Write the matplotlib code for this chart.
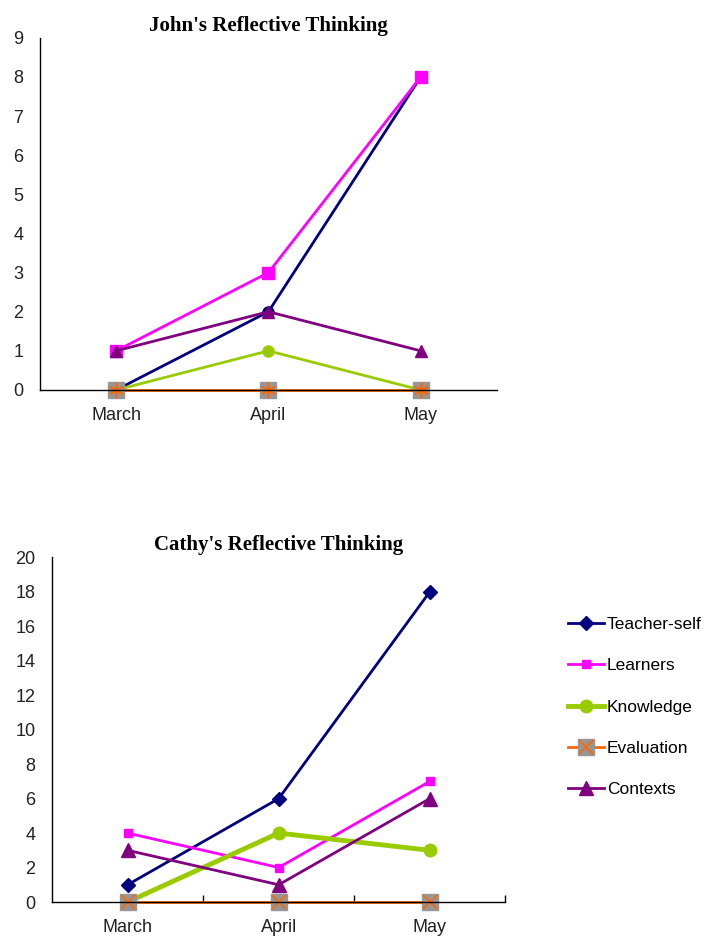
import numpy as np
import matplotlib
matplotlib.use("Agg")
from matplotlib import pyplot as plt

months = ["March", "April", "May"]
series = ["Teacher-self", "Learners", "Knowledge", "Evaluation", "Contexts"]

john_teacher = [0, 2, 8]
john_learners = [1, 3, 8]
john_knowledge = [0, 1, 0]
john_evaluation = [0, 0, 0]
john_contexts = [1, 2, 1]

cathy_teacher = [1, 6, 18]
cathy_learners = [4, 2, 7]
cathy_knowledge = [0, 4, 3]
cathy_evaluation = [0, 0, 0]
cathy_contexts = [3, 1, 6]

navy = "#000080"
magenta = "#FF00FF"
green = "#99CC00"
orange = "#FF6600"
purple = "#800080"
grey = "#969696"

plt.rcParams['font.family'] = ['Liberation Sans', 'DejaVu Sans']

fig = plt.figure(figsize=(7.06, 9.39), dpi=100)
x = np.arange(len(months))


def style_axes(ax, ymax, title):
    ax.set_xlim(-0.5, 2.5)
    ax.set_ylim(0, ymax)
    ax.spines['top'].set_visible(False)
    ax.spines['right'].set_visible(False)
    ax.set_xticks(x)
    ax.set_xticklabels(months)
    ax.tick_params(axis='both', length=0, labelsize=13, colors='#222222')
    ax.tick_params(axis='x', pad=12)
    ax.tick_params(axis='y', pad=12)
    ax.set_title(title, fontfamily='Liberation Serif', fontweight='bold',
                 fontsize=15, pad=5)
    for s in ax.spines.values():
        s.set_linewidth(1.0)


# John
ax1 = fig.add_axes([0.0567, 0.5847, 0.647, 0.375])
ax1.plot(x, john_teacher, color=navy, lw=2, marker='o', ms=8, clip_on=False)
ax1.plot(x, john_learners, color=magenta, lw=2, marker='s', ms=8, clip_on=False)
ax1.plot(x, john_knowledge, color=green, lw=2, marker='o', ms=8, clip_on=False)
ax1.plot(x, john_evaluation, color=orange, lw=2, marker='s', ms=12,
         mfc=grey, mec=grey, clip_on=False)
ax1.plot(x, john_evaluation, ls='none', marker=(6, 2, 0), ms=11, mec=orange,
         mew=1.2, clip_on=False)
ax1.plot(x, john_contexts, color=purple, lw=2, marker='^', ms=9, clip_on=False)
style_axes(ax1, 9, "John's Reflective Thinking")
ax1.set_yticks(range(0, 10))

# Cathy
ax2 = fig.add_axes([0.0737, 0.0394, 0.642, 0.367])
h1, = ax2.plot(x, cathy_teacher, color=navy, lw=2, marker='D', ms=7, clip_on=False)
h2, = ax2.plot(x, cathy_learners, color=magenta, lw=2, marker='s', ms=6, clip_on=False)
h3, = ax2.plot(x, cathy_knowledge, color=green, lw=3.5, marker='o', ms=9, clip_on=False)
h4, = ax2.plot(x, cathy_evaluation, color=orange, lw=2, marker='s', ms=12,
               mfc=grey, mec=grey, clip_on=False)
h4b, = ax2.plot(x, cathy_evaluation, ls='none', marker='x', ms=10, mec=orange,
                mew=1.2, clip_on=False)
h5, = ax2.plot(x, cathy_contexts, color=purple, lw=2, marker='^', ms=10, clip_on=False)
style_axes(ax2, 20, "Cathy's Reflective Thinking")
ax2.set_yticks(range(0, 21, 2))
ax2.set_xticks([0.5, 1.5, 2.5], minor=True)
ax2.tick_params(axis='x', which='minor', direction='in', length=5, width=1)

fig.legend([h1, h2, h3, (h4, h4b), h5], series, loc='upper left',
           bbox_to_anchor=(0.782, 0.3595), frameon=False, fontsize=12.5,
           labelspacing=1.5, handlelength=2.1, handletextpad=0.15)

fig.savefig("out.png", dpi=100)
